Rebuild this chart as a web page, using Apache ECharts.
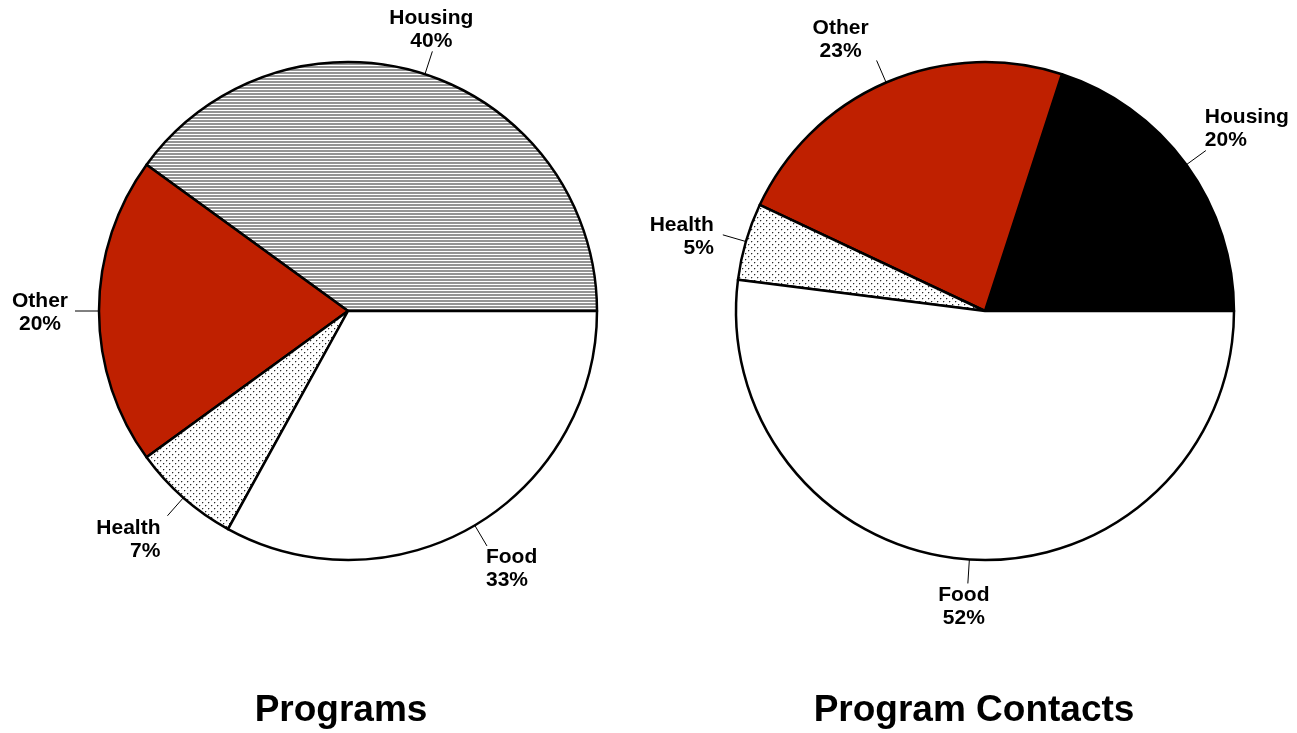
<!DOCTYPE html>
<html>
<head>
<meta charset="utf-8">
<script src="https://cdn.jsdelivr.net/npm/echarts@6/dist/echarts.min.js"></script>
<style>
  html, body { margin: 0; padding: 0; background: #fff; }
  #chart { width: 1297px; height: 733px; }
</style>
</head>
<body>
<div id="chart"></div>
<script>
// Shares by program area, in percent
const categories = ['Housing', 'Other', 'Health', 'Food'];
const programShares = [40, 20, 7, 33];
const contactShares = [20, 23, 5, 52];
const chartTitles = ['Programs', 'Program Contacts'];

const FONT = '"Liberation Sans", Arial, Helvetica, sans-serif';
const RED = '#bf2000';

// Fill patterns: horizontal hatch and a staggered dot screen
function makePattern(w, h, draw) {
  const c = document.createElement('canvas');
  c.width = w; c.height = h;
  const ctx = c.getContext('2d');
  ctx.fillStyle = '#fff';
  ctx.fillRect(0, 0, w, h);
  draw(ctx);
  return { image: c, repeat: 'repeat' };
}
const hatch = makePattern(4, 3, ctx => {
  ctx.fillStyle = '#949494';
  ctx.fillRect(0, 0, 4, 2);
});
const dots = makePattern(6, 6, ctx => {
  ctx.fillStyle = '#c4c4c4';
  ctx.fillRect(2, 1, 1, 1);
  ctx.fillRect(1, 2, 1, 1);
  ctx.fillRect(5, 4, 1, 1);
  ctx.fillRect(4, 5, 1, 1);
  ctx.fillStyle = '#2a2a2a';
  ctx.fillRect(1, 1, 1, 1);
  ctx.fillRect(4, 4, 1, 1);
});

const fills = [
  [hatch, RED, dots, '#ffffff'],
  ['#000000', RED, dots, '#ffffff']
];

// Where each label block sits relative to the end of its leader line
const labelPlacement = [
  [
    { h: 'center', v: 'bottom', lines: 'center', dx: -1, dy: 1 },
    { h: 'right',  v: 'middle', lines: 'center', dx: -7, dy: 1.5 },
    { h: 'right',  v: 'top',    lines: 'right',  dx: -7, dy: 0.5 },
    { h: 'left',   v: 'top',    lines: 'left',   dx: -1, dy: -0.5 }
  ],
  [
    { h: 'left',   v: 'bottom', lines: 'left',   dx: -1, dy: 1.5 },
    { h: 'right',  v: 'bottom', lines: 'center', dx: -8, dy: 2.5 },
    { h: 'right',  v: 'middle', lines: 'right',  dx: -9, dy: 1.5 },
    { h: 'center', v: 'top',    lines: 'center', dx: -4, dy: 0.5 }
  ]
];

function layoutLabel(params) {
  const pts = params.labelLinePoints;
  if (!pts) return {};
  const end = pts[pts.length - 1];
  const p = labelPlacement[params.seriesIndex][params.dataIndex];
  const w = params.labelRect.width;
  let left;
  if (p.h === 'left') left = end[0] + p.dx;
  else if (p.h === 'right') left = end[0] + p.dx - w;
  else left = end[0] + p.dx - w / 2;
  const x = p.lines === 'left' ? left : (p.lines === 'right' ? left + w : left + w / 2);
  return {
    x: x,
    y: end[1] + p.dy,
    align: p.lines,
    verticalAlign: p.v,
    labelLinePoints: pts
  };
}

function pieSeries(values, idx, center) {
  return {
    type: 'pie',
    center: center,
    radius: 249,
    startAngle: 0,
    clockwise: false,
    avoidLabelOverlap: false,
    silent: true,
    animation: false,
    data: categories.map((name, i) => ({
      name: name,
      value: values[i],
      itemStyle: { color: fills[idx][i] }
    })),
    itemStyle: { borderColor: '#000', borderWidth: 2.5 },
    label: {
      show: true,
      position: 'outside',
      formatter: '{b}\n{c}%',
      fontFamily: FONT,
      fontWeight: 'bold',
      fontSize: 21,
      lineHeight: 23,
      color: '#000'
    },
    labelLine: {
      show: true,
      length: 24,
      length2: 0,
      smooth: false,
      lineStyle: { color: '#000', width: 1 }
    },
    labelLayout: layoutLabel,
    emphasis: { disabled: true }
  };
}

const titleStyle = { fontFamily: FONT, fontWeight: 'bold', fontSize: 37, lineHeight: 37, color: '#000' };

const chart = echarts.init(document.getElementById('chart'), null, { renderer: 'canvas' });
chart.setOption({
  backgroundColor: '#fff',
  animation: false,
  title: [
    { text: chartTitles[0], left: 336, top: 687, textAlign: 'center', textStyle: titleStyle },
    { text: chartTitles[1], left: 969, top: 687, textAlign: 'center', textStyle: titleStyle }
  ],
  series: [
    pieSeries(programShares, 0, [348, 311]),
    pieSeries(contactShares, 1, [985, 311])
  ]
});
</script>
</body>
</html>
